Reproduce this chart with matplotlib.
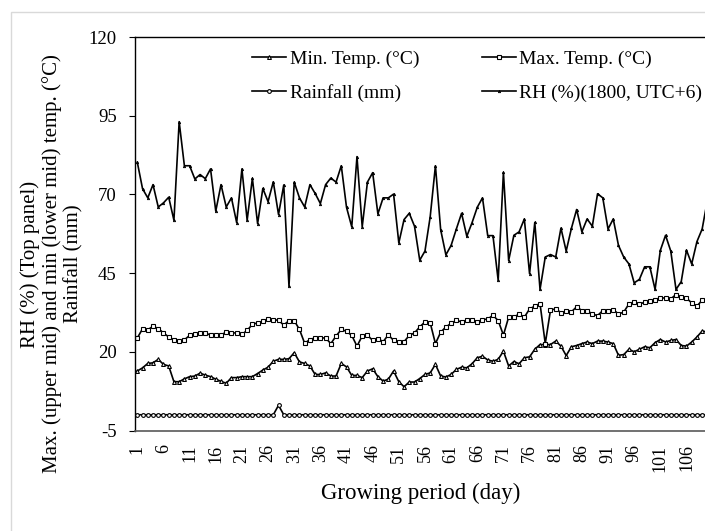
import matplotlib
matplotlib.use("Agg")
import matplotlib.pyplot as plt
from matplotlib.patches import Rectangle
import numpy as np

plt.rcParams['font.family'] = ['Liberation Serif', 'DejaVu Serif']
plt.rcParams['axes.unicode_minus'] = False

days = list(range(1, 111))

rh = [80.2, 71.8, 68.9, 73.1, 66.0, 67.3, 69.1, 61.8, 93.1, 79.1,
      79.1, 74.9, 76.3, 75.0, 78.1, 64.7, 73.1, 66.0, 68.9, 61.0,
      78.1, 61.8, 75.1, 60.7, 71.9, 67.7, 74.0, 63.6, 73.0, 40.8,
      73.9, 68.9, 66.0, 73.1, 70.3, 67.1, 73.1, 75.2, 73.9, 79.1,
      65.9, 59.7, 82.0, 59.7, 73.9, 76.9, 63.8, 68.9, 68.9, 70.1,
      54.6, 62.0, 64.0, 59.9, 49.1, 52.0, 62.9, 79.1, 58.8, 50.8,
      53.8, 59.0, 64.0, 56.7, 61.0, 65.9, 68.9, 56.9, 56.9, 42.7,
      77.0, 49.0, 57.0, 58.1, 62.2, 44.8, 61.1, 39.8, 50.1, 50.9,
      50.1, 59.3, 52.0, 59.2, 65.2, 58.1, 62.2, 59.9, 70.2, 68.9,
      59.0, 62.2, 53.8, 50.1, 47.9, 41.9, 43.0, 47.0, 47.0, 39.8,
      52.2, 57.0, 52.0, 39.8, 42.3, 52.3, 47.9, 55.0, 59.0, 68.1]

max_temp = [24.4, 27.3, 27.0, 28.1, 27.4, 26.0, 24.7, 23.8, 23.3, 23.8,
            25.2, 25.5, 26.0, 26.0, 25.3, 25.3, 25.3, 26.3, 26.0, 26.0,
            25.5, 26.8, 28.7, 29.2, 29.7, 30.4, 30.2, 30.0, 28.5, 29.9,
            29.9, 27.1, 22.7, 23.9, 24.4, 24.4, 24.4, 22.6, 25.0, 27.1,
            26.5, 25.2, 21.8, 25.0, 25.3, 23.6, 24.2, 23.2, 25.4, 23.6,
            23.2, 23.2, 25.2, 26.0, 27.9, 29.5, 29.2, 22.6, 26.2, 27.9,
            29.0, 30.0, 29.5, 30.0, 30.2, 29.5, 30.2, 30.4, 31.6, 29.9,
            25.3, 31.0, 31.0, 32.0, 31.0, 33.6, 34.5, 35.3, 22.6, 33.2,
            33.7, 32.4, 32.9, 32.7, 34.3, 33.1, 33.1, 32.0, 31.5, 33.1,
            33.1, 33.4, 32.0, 32.6, 35.2, 35.7, 35.2, 35.7, 36.0, 36.6,
            37.1, 37.1, 36.8, 38.2, 37.3, 37.1, 35.5, 34.5, 36.4, 36.6]

min_temp = [13.9, 14.9, 16.3, 16.5, 17.6, 16.0, 15.5, 10.5, 10.5, 11.4,
            12.1, 12.3, 13.2, 12.6, 12.1, 11.3, 10.6, 10.0, 11.8, 11.8,
            12.1, 12.1, 12.1, 13.1, 14.2, 15.1, 17.0, 17.6, 17.6, 17.8,
            19.7, 16.8, 16.3, 15.5, 12.8, 12.8, 13.3, 12.3, 12.3, 16.3,
            15.2, 12.5, 12.5, 11.8, 13.9, 14.6, 12.1, 10.7, 11.3, 13.9,
            10.5, 8.9, 10.4, 10.4, 11.5, 12.8, 13.3, 16.0, 12.3, 12.0,
            12.8, 14.4, 15.1, 14.9, 16.2, 18.1, 18.6, 17.4, 17.0, 17.6,
            20.2, 15.5, 16.9, 16.2, 18.1, 18.4, 20.8, 22.3, 22.3, 22.3,
            23.4, 21.8, 18.8, 21.6, 22.0, 22.6, 23.1, 22.6, 23.4, 23.4,
            23.1, 22.6, 18.9, 19.1, 20.8, 20.0, 20.8, 21.6, 21.3, 22.9,
            23.9, 23.1, 23.6, 23.9, 22.0, 21.8, 23.1, 24.7, 26.6, 26.3]

rainfall = [0.0] * 27 + [3.0] + [0.0] * 82

xtick_labels = [str(d) for d in range(1, 111, 5)]
yticks = [-5, 20, 45, 70, 95, 120]

W, H = 705, 531
fig = plt.figure(figsize=(W / 100, H / 100), dpi=100)

# light outer frame (cropped on right/bottom)
fig.patches.append(Rectangle((11 / W, -0.5), 2.0, (1 - 12 / H) + 0.5,
                             transform=fig.transFigure, fill=False,
                             edgecolor='#d9d9d9', lw=1.0))

ax = fig.add_axes([134.7 / W, 100.5 / H, 575.3 / W, 393.5 / H])

lw = 1.2
l_min, = ax.plot(days, min_temp, color='black', lw=lw, marker='^', ms=2.8,
                 mfc='white', mec='black', mew=0.8, label='Min. Temp. (°C)')
l_max, = ax.plot(days, max_temp, color='black', lw=lw, marker='s', ms=2.7,
                 mfc='white', mec='black', mew=0.8, label='Max. Temp. (°C)')
l_rain, = ax.plot(days, rainfall, color='black', lw=lw, marker='o', ms=2.7,
                  mfc='white', mec='black', mew=0.8, label='Rainfall (mm)')
l_rh, = ax.plot(days, rh, color='black', lw=lw, marker='^', ms=1.8,
                mfc='black', mec='black', mew=0.5,
                label='RH (%)(1800, UTC+6)')

ax.set_xlim(0.5, 110.5)
ax.set_ylim(-5, 120)
ax.set_yticks(yticks)
ax.set_xticks(range(1, 111, 5))
ax.set_xticklabels(xtick_labels, rotation=90)
ax.tick_params(axis='y', direction='out', length=4, width=0.8, pad=9,
               labelsize=13.5, color='black')
ax.tick_params(axis='x', length=0, pad=10, labelsize=13)

for s in ['left', 'top', 'right']:
    ax.spines[s].set_color('black')
    ax.spines[s].set_linewidth(1.0)
ax.spines['bottom'].set_color('#595959')
ax.spines['bottom'].set_linewidth(1.2)

leg = ax.legend(handles=[l_min, l_rain, l_max, l_rh], ncol=2, frameon=False,
                loc='upper left', bbox_to_anchor=(0.18, 1.0),
                fontsize=14, handlelength=1.75, handletextpad=0.2,
                columnspacing=3.2, labelspacing=0.8, borderaxespad=0.3)

fig.text(320 / W + (522 - 320) / 2 / W, 1 - 493 / H, 'Growing period (day)',
         ha='center', va='center', fontsize=16.5)

fig.text(52 / W, 1 - 264 / H,
         'RH (%) (Top panel)\nMax. (upper mid) and min (lower mid) temp. (°C)\nRainfall (mm)',
         rotation=90, ha='center', va='center', multialignment='center',
         fontsize=15, linespacing=1.15)

fig.savefig('out.png', dpi=100)
